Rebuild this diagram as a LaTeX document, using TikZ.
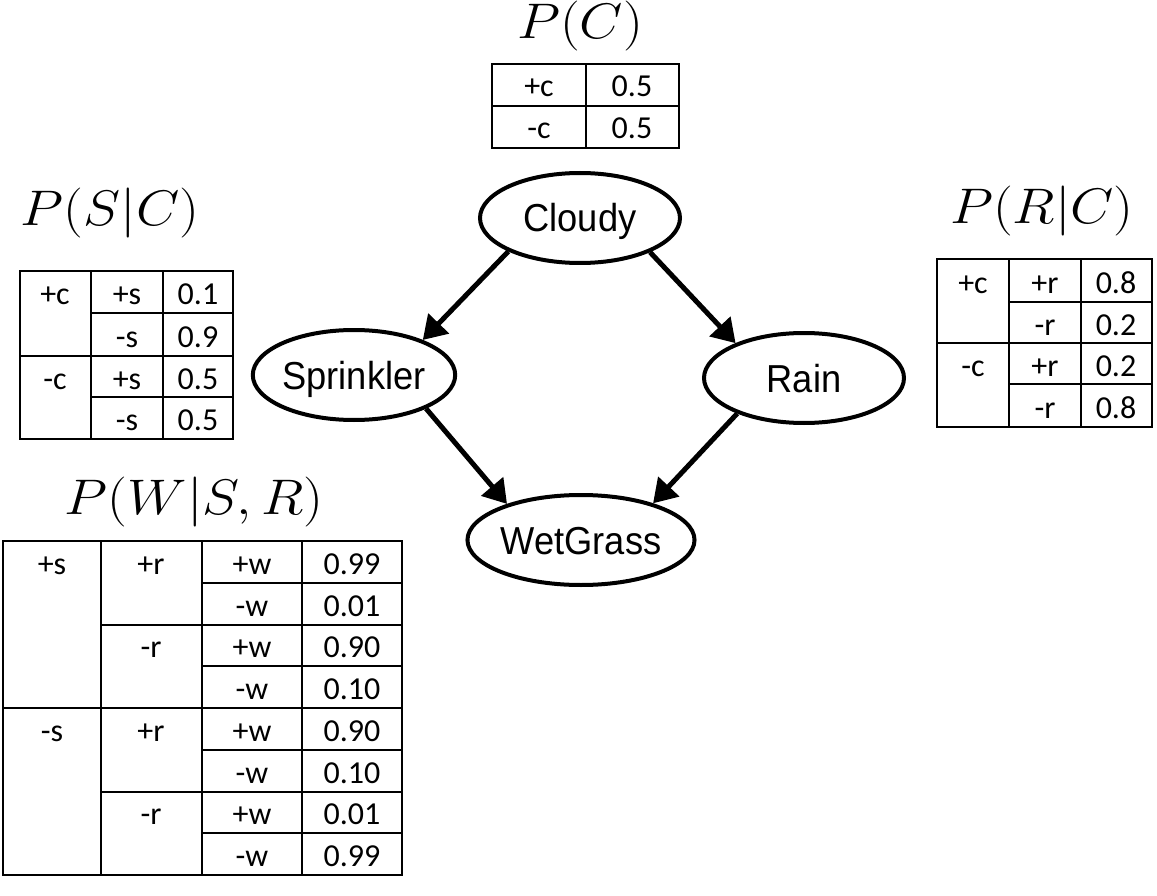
\RequirePackage{fix-cm}
\documentclass[tikz,border=0pt]{standalone}
\usepackage{fontspec}
\newfontfamily\tabfont{Carlito}
\newfontfamily\nodefont{Liberation Sans}
\usetikzlibrary{arrows.meta,shapes.geometric}
\newcommand{\nodetxt}[1]{\scalebox{0.93}[1]{#1}}
\newcommand{\ttltxt}[1]{\scalebox{1.12}[1]{#1}}
\begin{document}
\begin{tikzpicture}[x=1pt,y=-1pt,
  bn/.style={ellipse, draw, line width=4pt, minimum width=200pt, minimum height=90pt, inner sep=0pt,
    font=\nodefont\fontsize{39}{39}\selectfont, text height=28pt, text depth=0pt},
  arr/.style={line width=5pt, -{Triangle[length=23pt,width=28pt]}},
  grid/.style={line width=2pt},
  cell/.style={anchor=base, inner sep=0pt, font=\tabfont\fontsize{32}{32}\selectfont},
  ttl/.style={anchor=base, inner sep=0pt, font=\fontsize{50}{50}\selectfont}]
\useasboundingbox (0,0) rectangle (1157,896);
\fill[white] (0,0) rectangle (1157,896);

% Bayes net
\node[bn] (cloudy) at (580,218) {\nodetxt{Cloudy}};
\node[bn] (sprinkler) at (354,375) {\nodetxt{Sprinkler}};
\node[bn] (rain) at (804,378) {\nodetxt{Rain}};
\node[bn] (wet) at (581,540) {\nodetxt{WetGrass}};
\draw[arr] (cloudy.205) -- (sprinkler.27);
\draw[arr] (cloudy.334) -- (rain.153);
\draw[arr] (sprinkler.335) -- (wet.154);
\draw[arr] (rain.208) -- (wet.27);

% titles
\node[ttl] (tc) at (580,39) {\ttltxt{$P(C)$}};
\node[ttl] (tsc) at (110,226) {\ttltxt{$P(S|C)$}};
\node[ttl] (trc) at (1042,224) {\ttltxt{$P(R|C)$}};
\node[ttl] (twsr) at (194,514) {\ttltxt{$P(W|S,R)$}};

% P(C) table
\draw[grid] (492,64) rectangle (679,148);
\draw[grid] (586,64) -- (586,148);
\draw[grid] (492,106) -- (679,106);
\foreach \x/\y/\t/\n in {539/97/+c/pc1, 632/97/0.5/pc2, 539/139/-c/pc3, 632/139/0.5/pc4}
  \node[cell] (\n) at (\x,\y) {\t};

% P(S|C) table
\draw[grid] (20,271) rectangle (233,439);
\draw[grid] (91,271) -- (91,439);
\draw[grid] (163,271) -- (163,439);
\draw[grid] (91,313) -- (233,313);
\draw[grid] (20,356) -- (233,356);
\draw[grid] (91,397) -- (233,397);
\foreach \x/\y/\t/\n in {55/304/+c/sc1, 127/304/+s/sc2, 198/304/0.1/sc3,
  127/347/-s/sc4, 198/347/0.9/sc5,
  55/389/-c/sc6, 127/389/+s/sc7, 198/389/0.5/sc8,
  127/430/-s/sc9, 198/430/0.5/sc10}
  \node[cell] (\n) at (\x,\y) {\t};

% P(R|C) table
\draw[grid] (937,259) rectangle (1152,427);
\draw[grid] (1009,259) -- (1009,427);
\draw[grid] (1081,259) -- (1081,427);
\draw[grid] (1009,302) -- (1152,302);
\draw[grid] (937,343) -- (1152,343);
\draw[grid] (1009,384) -- (1152,384);
\foreach \x/\y/\t/\n in {973/293/+c/rc1, 1045/293/+r/rc2, 1116/293/0.8/rc3,
  1045/335/-r/rc4, 1116/335/0.2/rc5,
  973/376/-c/rc6, 1045/376/+r/rc7, 1116/376/0.2/rc8,
  1045/418/-r/rc9, 1116/418/0.8/rc10}
  \node[cell] (\n) at (\x,\y) {\t};

% P(W|S,R) table
\draw[grid] (3,541) rectangle (402,875);
\draw[grid] (101,541) -- (101,875);
\draw[grid] (202,541) -- (202,875);
\draw[grid] (302,541) -- (302,875);
\foreach \yy in {583,666,750,833}
  \draw[grid] (202,\yy) -- (402,\yy);
\foreach \yy in {625,792}
  \draw[grid] (101,\yy) -- (402,\yy);
\draw[grid] (3,708) -- (402,708);
\foreach \x/\y/\t/\n in {52/574/+s/w1, 151/574/+r/w2, 252/574/+w/w3, 352/574/0.99/w4,
  252/616/-w/w5, 352/616/0.01/w6,
  151/657/-r/w7, 252/657/+w/w8, 352/657/0.90/w9,
  252/699/-w/w10, 352/699/0.10/w11,
  52/741/-s/w12, 151/741/+r/w13, 252/741/+w/w14, 352/741/0.90/w15,
  252/783/-w/w16, 352/783/0.10/w17,
  151/824/-r/w18, 252/824/+w/w19, 352/824/0.01/w20,
  252/866/-w/w21, 352/866/0.99/w22}
  \node[cell] (\n) at (\x,\y) {\t};
\end{tikzpicture}
\end{document}
